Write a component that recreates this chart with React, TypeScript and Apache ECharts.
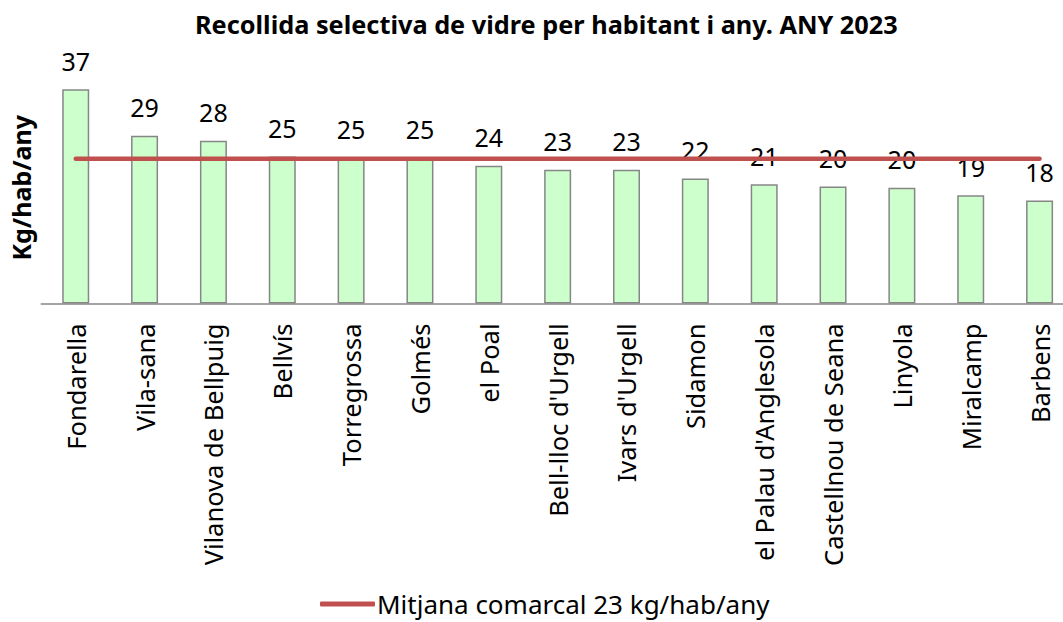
import React, { useEffect, useRef } from "react";
import * as echarts from "echarts";

const categories = [
  "Fondarella",
  "Vila-sana",
  "Vilanova de Bellpuig",
  "Bellvís",
  "Torregrossa",
  "Golmés",
  "el Poal",
  "Bell-lloc d'Urgell",
  "Ivars d'Urgell",
  "Sidamon",
  "el Palau d'Anglesola",
  "Castellnou de Seana",
  "Linyola",
  "Miralcamp",
  "Barbens",
];

const values = [37.0, 29.0, 28.1, 25.4, 25.2, 25.2, 23.8, 23.1, 23.1, 21.6, 20.6, 20.2, 20.0, 18.7, 17.8];

const averageLine = [25, 25, 25, 25, 25, 25, 25, 25, 25, 25, 25, 25, 25, 25, 25];

const titleText = "Recollida selectiva de vidre per habitant i any. ANY 2023";
const yAxisName = "Kg/hab/any";
const averageName = "Mitjana comarcal 23 kg/hab/any";

const FONT = "'Noto Sans', 'Open Sans', sans-serif";

export default function App() {
  const ref = useRef<HTMLDivElement>(null);
  useEffect(() => {
    if (!ref.current) return;
    const chart = echarts.init(ref.current, undefined, { renderer: "svg" });
    chart.setOption({
      animation: false,
      textStyle: { fontFamily: FONT },
      title: {
        text: titleText,
        left: 190,
        top: 6,
        textStyle: { fontFamily: FONT, fontWeight: "bold", fontSize: 25.3, color: "#000" },
      },
      legend: {
        bottom: 0,
        left: 315,
        icon: "roundRect",
        itemWidth: 55,
        itemHeight: 5,
        itemGap: 4,
        data: [{ name: averageName }],
        textStyle: { fontFamily: FONT, fontSize: 26, color: "#000", padding: [0, 0, 0, -3] },
      },
      grid: { left: 41.3, top: 72, bottom: 318.5, width: 1032.7 },
      xAxis: {
        type: "category",
        data: categories,
        axisLine: { lineStyle: { color: "#868686", width: 1.5 } },
        axisTick: { show: false },
        axisLabel: {
          rotate: 90,
          margin: 20,
          fontSize: 25.5,
          color: "#000",
          fontFamily: FONT,
        },
      },
      yAxis: {
        type: "value",
        min: 0,
        max: 40,
        name: yAxisName,
        nameLocation: "middle",
        nameGap: 8,
        nameTextStyle: { fontFamily: FONT, fontWeight: "bold", fontSize: 25, color: "#000" },
        axisLine: { show: false },
        axisTick: { show: false },
        axisLabel: { show: false },
        splitLine: { show: false },
      },
      series: [
        {
          type: "bar",
          data: values,
          barWidth: 27,
          itemStyle: { color: "#ccffcc", borderColor: "#868686", borderWidth: 1.5 },
          label: {
            show: true,
            position: "top",
            distance: 16,
            fontSize: 25,
            color: "#000",
            fontFamily: FONT,
            formatter: (p: any) => String(Math.round(p.value)),
          },
        },
        {
          type: "line",
          name: averageName,
          data: averageLine,
          symbol: "none",
          lineStyle: { color: "#c0504d", width: 4.5, cap: "round" },
          itemStyle: { color: "#c0504d" },
          z: 5,
        },
      ],
    });
    return () => chart.dispose();
  }, []);
  return (
    <div style={{ position: "fixed", left: 0, top: 0, width: 1063, height: 622, overflow: "hidden", background: "#fff" }}>
      <div ref={ref} style={{ width: 1080, height: 622 }} />
    </div>
  );
}
